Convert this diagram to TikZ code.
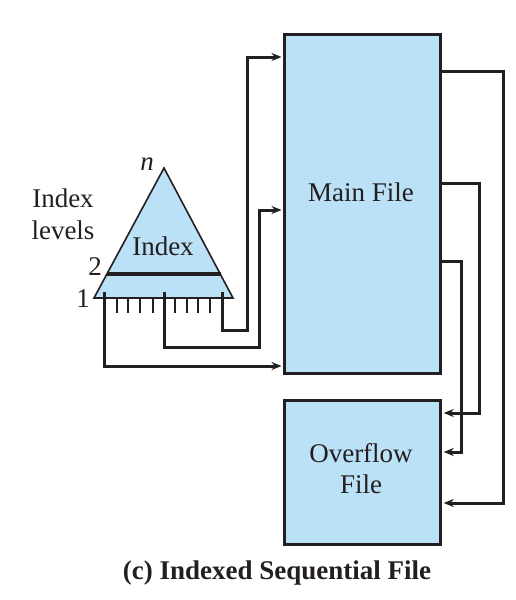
\documentclass[tikz,border=0pt]{standalone}
\usepackage{fontspec}
\setmainfont{LiberationSerif}[Extension=.ttf, UprightFont=*-Regular, BoldFont=*-Bold, ItalicFont=*-Italic, BoldItalicFont=*-BoldItalic]
\usetikzlibrary{arrows.meta}
\definecolor{boxblue}{RGB}{187,225,246}
\definecolor{ink}{RGB}{35,31,32}
\begin{document}
\begin{tikzpicture}[x=1pt,y=-1pt,
  filebox/.style={draw=ink, line width=3.2pt, fill=boxblue, inner sep=0pt, anchor=north west},
  conn/.style={draw=ink, line width=3pt, -{Stealth[length=10pt,width=8pt]}, shorten >=1.5pt},
  lbl/.style={font=\fontsize{27}{31}\selectfont, text=ink, inner sep=0pt, align=center},
  tick/.style={draw=ink, line width=1.5pt}]
\useasboundingbox (0,0) rectangle (516,600);

% boxes
\node[filebox, minimum width=156pt, minimum height=339pt] (main) at (283,33) {};
\node[filebox, minimum width=156pt, minimum height=144pt] (over) at (283,399) {};
\node[lbl] (maintext) at (361,192) {Main File};
\node[lbl] (overtext) at (361,469) {Overflow\\File};

% index triangle
\coordinate (tl) at (94,298);
\coordinate (tt) at (164,168);
\coordinate (tr) at (233,298);
\draw[draw=ink, fill=boxblue, line width=1.6pt, line join=miter] (tl) -- (tt) -- (tr) -- cycle;
\draw[draw=ink, line width=2.2pt] (tl) -- (tr);
\coordinate (l2a) at (107,274);
\coordinate (l2b) at (221,274);
\draw[draw=ink, line width=3.2pt] (l2a) -- (l2b);
\foreach \x in {117,128,140,153,175,187,198,210}
  \draw[tick] (\x,298) -- (\x,313);

% labels
\node[lbl, font=\fontsize{27}{31}\selectfont\itshape] (ln) at (147,164) {n};
\node[lbl] (lidx) at (63,198) {Index};
\node[lbl] (llev) at (63,230) {levels};
\node[lbl] (lin) at (163,246) {Index};
\node[lbl] (l2) at (95,267) {2};
\node[lbl] (l1) at (83,299) {1};
\node[lbl, font=\fontsize{27}{31}\selectfont\bfseries] (cap) at (277,573) {(c) Indexed Sequential File};

% left connectors
\coordinate (s1) at (104,292);
\coordinate (s2) at (164,292);
\coordinate (s3) at (222,292);
\path (main.north west) ++(0,333) coordinate (a1);
\path (main.north west) ++(0,177) coordinate (a2);
\path (main.north west) ++(0,24) coordinate (a3);
\draw[conn] (s1) -- (104,366) -- (a1);
\draw[conn] (s2) -- (164,347) -- (259,347) -- (259,210) -- (a2);
\draw[conn] (s3) -- (222,330) -- (247,330) -- (247,57) -- (a3);

% right connectors
\path (main.north east) ++(0,38) coordinate (m1);
\path (main.north east) ++(0,150) coordinate (m2);
\path (main.north east) ++(0,228) coordinate (m3);
\path (over.north east) ++(0,104) coordinate (o1);
\path (over.north east) ++(0,14) coordinate (o2);
\path (over.north east) ++(0,53) coordinate (o3);
\draw[conn] (m1) -- (503,71) -- (503,503) -- (o1);
\draw[conn] (m2) -- (479,183) -- (479,413) -- (o2);
\draw[conn] (m3) -- (461,261) -- (461,452) -- (o3);
\end{tikzpicture}
\end{document}
